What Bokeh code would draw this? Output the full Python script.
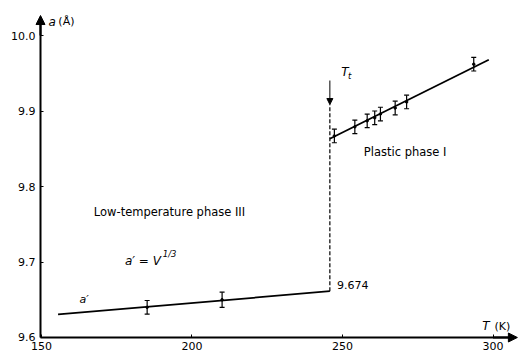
from bokeh.plotting import figure
from bokeh.models import Range1d, FixedTicker, Arrow, NormalHead
from bokeh.core.properties import value
from bokeh.embed import file_html
from bokeh.resources import INLINE

# ---- data ----
low_fit_T = [155.5, 245.8]
low_fit_a = [9.6305, 9.6613]
low_T = [185.1, 210.0]
low_a = [9.640, 9.650]
low_err = [0.009, 0.010]

high_fit_T = [245.8, 298.6]
high_fit_a = [9.8632, 9.968]
high_T = [247.3, 254.1, 258.2, 260.7, 262.6, 267.5, 271.3, 293.6]
high_a = [9.867, 9.879, 9.887, 9.891, 9.896, 9.904, 9.912, 9.962]
high_err = [0.009, 0.009, 0.009, 0.009, 0.009, 0.009, 0.009, 0.009]

T_t = 245.8
T_t_arrow_a = [9.9404, 9.9086]
jump_label = "9.674"

x_ticks = [150, 200, 250, 300]
y_ticks = [9.6, 9.7, 9.8, 9.9, 10.0]
y_tick_labels = ["9.6", "9.7", "9.8", "9.9", "10.0"]

FONT = value("DejaVu Sans")

# axis origin (where the two axis lines cross) and axis arrow tips
AX_T = 149.67
AX_A = 9.6
X_TIP = 308.1
Y_TIP = 10.0265

p = figure(width=518, height=353, output_backend="svg", toolbar_location=None,
           x_range=Range1d(136.38, 308.47), y_range=Range1d(9.5788, 10.0464),
           min_border_left=0, min_border_right=0, min_border_top=0,
           min_border_bottom=0)
p.outline_line_color = None
p.grid.visible = False
p.background_fill_color = "white"
p.border_fill_color = "white"

for ax in (p.xaxis[0], p.yaxis[0]):
    ax.axis_line_width = 2
    ax.axis_line_color = "black"
    ax.major_tick_in = 3
    ax.major_tick_out = 0
    ax.minor_tick_line_color = None
    ax.major_tick_line_width = 1
    ax.major_label_text_font = "DejaVu Sans"
    ax.major_label_text_font_size = "11px"
    ax.major_label_text_color = "black"

p.xaxis.fixed_location = AX_A
p.yaxis.fixed_location = AX_T
p.xaxis.ticker = FixedTicker(ticks=x_ticks)
p.yaxis.ticker = FixedTicker(ticks=y_ticks)
p.yaxis.major_label_overrides = {t: s for t, s in zip(y_ticks, y_tick_labels)}
p.xaxis.bounds = (AX_T, X_TIP - 2)
p.yaxis.bounds = (AX_A, Y_TIP - 0.004)
p.xaxis.major_label_standoff = 5
p.yaxis.major_label_standoff = 5

# axis arrowheads
p.add_layout(Arrow(end=NormalHead(size=9, fill_color="black", line_color="black"),
                   x_start=AX_T, y_start=10.0, x_end=AX_T, y_end=Y_TIP,
                   line_width=2, line_color="black"))
p.add_layout(Arrow(end=NormalHead(size=9, fill_color="black", line_color="black"),
                   x_start=300.0, y_start=AX_A, x_end=X_TIP, y_end=AX_A,
                   line_width=2, line_color="black"))

# fitted lines
p.line(low_fit_T, low_fit_a, line_color="black", line_width=1.8)
p.line(high_fit_T, high_fit_a, line_color="black", line_width=1.8)

# error bars
def errbars(T, a, e):
    lo = [ai - ei for ai, ei in zip(a, e)]
    hi = [ai + ei for ai, ei in zip(a, e)]
    p.segment(x0=T, y0=lo, x1=T, y1=hi, line_color="black", line_width=1.2)
    p.scatter(T + T, lo + hi, marker="dash", size=5, line_color="black", line_width=1.2)
    p.scatter(T, a, marker="circle", size=2.5, fill_color="black", line_color="black")

errbars(low_T, low_a, low_err)
errbars(high_T, high_a, high_err)

# transition: dashed line and arrow
p.line([T_t, T_t], [low_fit_a[1], T_t_arrow_a[1]], line_color="black",
       line_width=1.2, line_dash="4 2")
p.add_layout(Arrow(end=NormalHead(size=6, fill_color="black", line_color="black"),
                   x_start=T_t, y_start=T_t_arrow_a[0], x_end=T_t, y_end=T_t_arrow_a[1],
                   line_width=1, line_color="black"))

def txt(x, y, s, size="12px", style="normal", align="left"):
    p.text(x=[x], y=[y], text=[s], text_font=FONT, text_font_size=size,
           text_font_style=style, text_baseline="middle", text_align=align,
           text_color="black")

txt(152.3, 10.0185, "a", "12px", "italic")
txt(155.6, 10.0185, "(Å)", "11px")
txt(296.4, 9.6146, "T", "12px", "italic")
txt(300.5, 9.6146, "(K)", "11px")
txt(167.4, 9.7656, "Low-temperature phase III", "11.5px")
txt(257.1, 9.8454, "Plastic phase I", "11.5px")
txt(177.7, 9.7007, "a′ = V", "12px", "italic")
txt(190.3, 9.7112, "1/3", "8.5px", "italic")
txt(162.6, 9.6503, "a′", "11px", "italic")
txt(248.2, 9.6689, jump_label, "11px")
txt(249.6, 9.9523, "T", "12px", "italic")
txt(251.8, 9.9465, "t", "8.5px", "italic")

open("out.html", "w").write(file_html(p, INLINE))
